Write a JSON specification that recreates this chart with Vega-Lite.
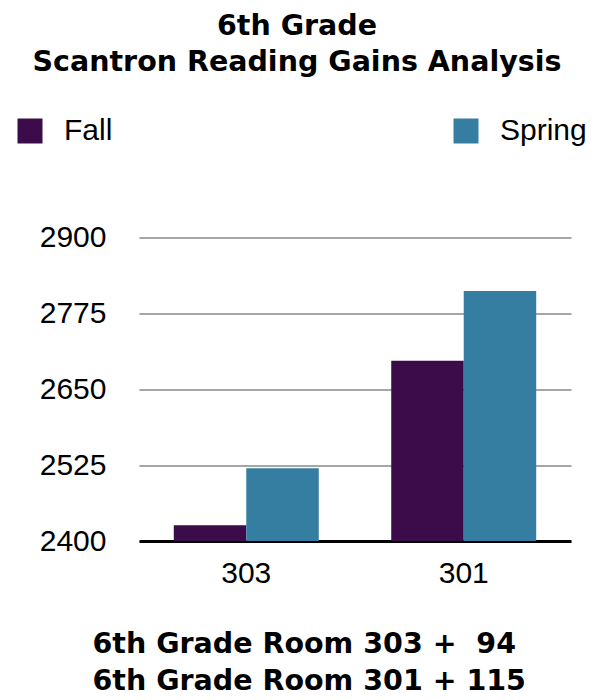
{
  "$schema": "https://vega.github.io/schema/vega-lite/v6.json",
  "autosize": {"type": "none"},
  "width": 432,
  "height": 303.5,
  "padding": {"left": 139, "top": 237.5, "right": 23, "bottom": 159},
  "background": "white",
  "title": {
    "text": ["6th Grade", "Scantron Reading Gains Analysis"],
    "font": "DejaVu Sans",
    "fontWeight": "bold",
    "fontSize": 28.5,
    "lineHeight": 36,
    "color": "black",
    "anchor": "middle",
    "dx": -58,
    "offset": 40
  },
  "data": {
    "values": [
      {"room": "303", "term": "Fall", "score": 2426},
      {"room": "303", "term": "Spring", "score": 2520},
      {"room": "301", "term": "Fall", "score": 2697},
      {"room": "301", "term": "Spring", "score": 2812}
    ]
  },
  "mark": {"type": "bar", "clip": true},
  "encoding": {
    "x": {
      "field": "room",
      "type": "nominal",
      "sort": ["303", "301"],
      "scale": {"paddingInner": 0.3333, "paddingOuter": 0.16},
      "axis": {
        "title": ["6th Grade Room 303 +\u00a0 94", "6th Grade Room 301 + 115"],
        "titleFont": "DejaVu Sans",
        "titleFontWeight": "bold",
        "titleFontSize": 28.5,
        "titleLineHeight": 37,
        "titleColor": "black",
        "titleAlign": "left",
        "titleAnchor": null,
        "titleX": -47,
        "titleY": 102,
        "titleBaseline": "middle",
        "labelFont": "Liberation Sans",
        "labelFontSize": 30,
        "labelColor": "black",
        "labelAngle": 0,
        "labelPadding": 17,
        "ticks": false,
        "domainColor": "black",
        "domainWidth": 3
      }
    },
    "xOffset": {
      "field": "term",
      "type": "nominal",
      "sort": ["Fall", "Spring"],
      "scale": {"paddingInner": 0, "paddingOuter": 0}
    },
    "y": {
      "field": "score",
      "type": "quantitative",
      "scale": {"domain": [2400, 2900], "zero": false, "nice": false},
      "axis": {
        "title": null,
        "values": [2400, 2525, 2650, 2775, 2900],
        "format": "d",
        "labelFont": "Liberation Sans",
        "labelFontSize": 30,
        "labelColor": "black",
        "labelPadding": 33,
        "ticks": false,
        "domain": false,
        "gridColor": "#A6A6A6",
        "gridWidth": 2,
        "gridOpacity": 1
      }
    },
    "color": {
      "field": "term",
      "type": "nominal",
      "sort": ["Fall", "Spring"],
      "scale": {"domain": ["Fall", "Spring"], "range": ["#3C0C4A", "#367EA1"]},
      "legend": {
        "title": null,
        "orient": "none",
        "legendX": -124,
        "legendY": -121.5,
        "direction": "horizontal",
        "columnPadding": 338,
        "symbolType": "square",
        "symbolSize": 625,
        "symbolStrokeWidth": 0,
        "symbolOpacity": 1,
        "labelFont": "Liberation Sans",
        "labelFontSize": 30,
        "labelColor": "black",
        "labelOffset": 19,
        "padding": 0
      }
    }
  },
  "config": {
    "view": {"stroke": null},
    "axis": {"labelOverlap": false}
  }
}
